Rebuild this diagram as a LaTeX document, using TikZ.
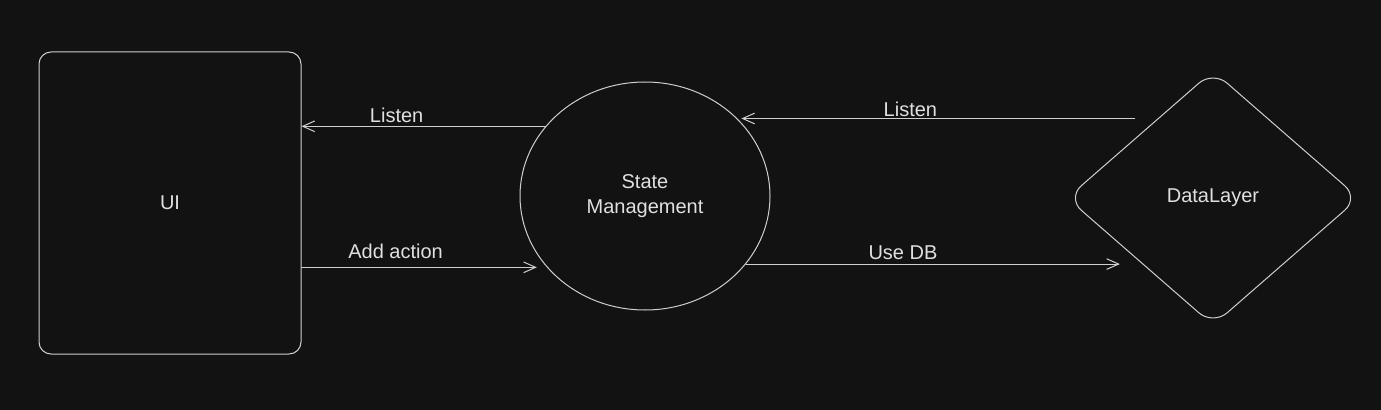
\documentclass[tikz,border=0pt]{standalone}
\usepackage{fontspec}
\setmainfont{Liberation Sans}
\usepackage{xcolor}
\usepackage{tikz}
\usetikzlibrary{calc,arrows.meta,shapes.geometric}
\definecolor{bg}{HTML}{121212}
\definecolor{text}{HTML}{E0E0E0}
\definecolor{edge}{HTML}{CFCFCF}
\tikzset{
  base/.style={draw=edge, line width=0.75pt, line cap=round, line join=round},
  box/.style={base, rectangle, rounded corners=9pt, minimum width=196.5pt, minimum height=226.5pt},
  blob/.style={base, ellipse, inner sep=0pt, minimum width=187.5pt, minimum height=171pt},
  gem/.style={base, diamond, rounded corners=14pt, inner sep=0pt, minimum width=219pt, minimum height=191pt},
  arr/.style={base, -{Straight Barb[length=9pt,width=8pt]}},
  lab/.style={text=text, font=\fontsize{15}{19}\selectfont, align=center},
  lbl/.style={lab, above, inner sep=2pt},
}

\begin{document}
\begin{tikzpicture}[x=0.75pt, y=-0.75pt]
  \fill[bg] (0,0) rectangle (1381,410);
  \useasboundingbox (0,0) rectangle (1381,410);

  \node[box, lab] (ui) at (170,203) {UI};
  \node[blob, lab] (state) at (645,196) {State\\Management};
  \node[gem, lab] (data) at (1213,198) {DataLayer};

  \draw[arr] (state.145) -- (state.145 -| ui.east)
    node[lbl, pos=0.61] {Listen};
  \draw[arr] (state.216 -| ui.east) -- ($(state.216)+(-7.5pt,0)$)
    node[lbl, pos=0.4, inner sep=6pt] {Add action};
  \draw[arr] ($(state.40 -| data.west)+(51pt,0)$) -- ($(state.40)+(3pt,0)$)
    node[lbl, pos=0.57, inner sep=1pt] {Listen};
  \draw[arr] (state.326) -- ($(state.326 -| data.west)+(40pt,0)$)
    node[lbl, pos=0.42, inner sep=3pt] {Use DB};
\end{tikzpicture}
\end{document}
